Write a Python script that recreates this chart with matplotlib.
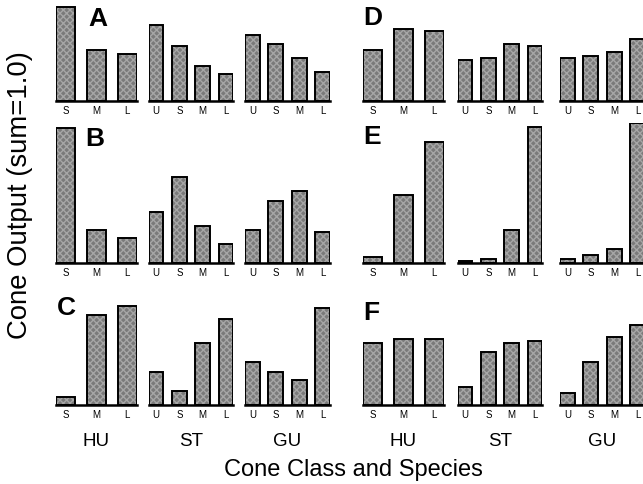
import matplotlib.pyplot as plt

plt.rcParams['font.family'] = ['Liberation Sans', 'DejaVu Sans']

# cone output fractions per panel, per species group
species = ['HU', 'ST', 'GU']
classes = {'HU': ['S', 'M', 'L'],
           'ST': ['U', 'S', 'M', 'L'],
           'GU': ['U', 'S', 'M', 'L']}

panel_A = {'HU': [0.48, 0.26, 0.24], 'ST': [0.39, 0.28, 0.18, 0.14], 'GU': [0.34, 0.29, 0.22, 0.15]}
panel_B = {'HU': [0.69, 0.17, 0.13], 'ST': [0.26, 0.44, 0.19, 0.10], 'GU': [0.17, 0.32, 0.37, 0.16]}
panel_C = {'HU': [0.04, 0.46, 0.51], 'ST': [0.17, 0.07, 0.32, 0.44], 'GU': [0.22, 0.17, 0.13, 0.50]}
panel_D = {'HU': [0.26, 0.37, 0.36], 'ST': [0.21, 0.22, 0.29, 0.28], 'GU': [0.22, 0.23, 0.25, 0.32]}
panel_E = {'HU': [0.03, 0.35, 0.62], 'ST': [0.01, 0.02, 0.17, 0.70], 'GU': [0.02, 0.04, 0.07, 0.72]}
panel_F = {'HU': [0.32, 0.34, 0.34], 'ST': [0.09, 0.27, 0.32, 0.33], 'GU': [0.06, 0.22, 0.35, 0.41]}

panels = [('A', panel_A), ('B', panel_B), ('C', panel_C),
          ('D', panel_D), ('E', panel_E), ('F', panel_F)]

W, H = 643, 485
fig = plt.figure(figsize=(W / 100, H / 100), dpi=100)

# layout in pixels
px_per_unit = 195.0
row_base = [102, 264, 406]
row_top = [2, 124, 296]
col_groups = [[(56, 137), (149, 233), (245, 330)],
              [(363, 444), (458, 542), (560, 645)]]
letter_pos = [(88, 19), (85, 139), (57, 308), (363, 18), (363, 137), (363, 313)]
bw = 0.62

for i, (letter, data) in enumerate(panels):
    col, row = divmod(i, 3)
    base, top = row_base[row], row_top[row]
    for (x0, x1), sp in zip(col_groups[col], species):
        ax = fig.add_axes([x0 / W, 1 - base / H, (x1 - x0) / W, (base - top) / H])
        vals = data[sp]
        n = len(vals)
        xs = list(range(n))
        # stippled grey fill, then black outline on top
        ax.bar(xs, vals, width=bw, color='#7a7a7a', hatch='xxxxx',
               edgecolor='#a6a6a6', linewidth=0)
        ax.bar(xs, vals, width=bw, fill=False, edgecolor='black', linewidth=1.4)
        ax.set_xlim(-bw / 2, n - 1 + bw / 2)
        ax.set_ylim(0, (base - top) / px_per_unit)
        for s in ['top', 'right', 'left']:
            ax.spines[s].set_visible(False)
        ax.spines['bottom'].set_linewidth(1.8)
        ax.set_yticks([])
        ax.set_xticks(xs)
        ax.set_xticklabels(classes[sp], fontsize=7)
        ax.tick_params(axis='x', length=0, pad=3)
        ax.patch.set_alpha(0)
        if row == 2:
            fig.text((x0 + x1) / 2 / W, 1 - 442 / H, sp, fontsize=13.5,
                     ha='center', va='center')
    lx, ly = letter_pos[i]
    fig.text(lx / W, 1 - ly / H, letter, fontsize=19, fontweight='bold',
             ha='left', va='center')

fig.text(353 / W, 1 - 470 / H, 'Cone Class and Species', fontsize=17,
         ha='center', va='center')
fig.text(20 / W, 1 - 195 / H, 'Cone Output (sum=1.0)', fontsize=19.8,
         ha='center', va='center', rotation=90)

fig.savefig('out.png', dpi=100)
